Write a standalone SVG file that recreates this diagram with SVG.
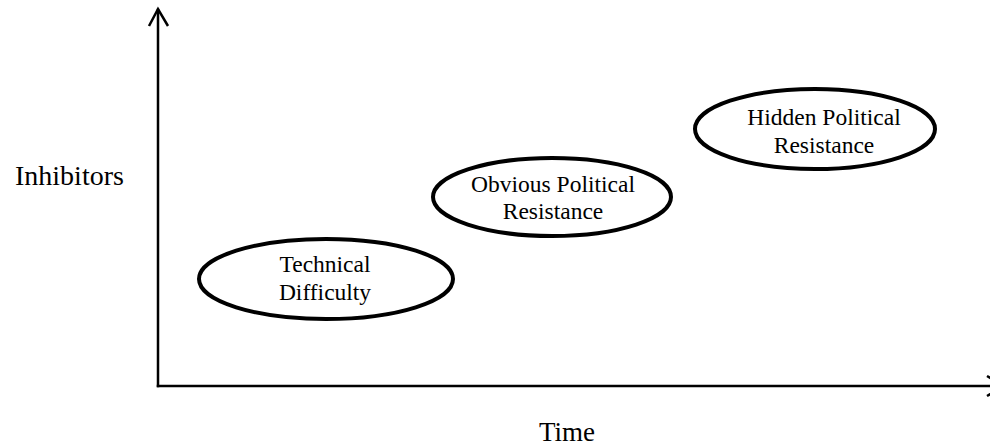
<svg xmlns="http://www.w3.org/2000/svg" width="990" height="448" viewBox="0 0 990 448">
<style>
.axis{fill:none;stroke:#000;stroke-width:2.5;stroke-linecap:square}
.head{fill:none;stroke:#000;stroke-width:2.5;stroke-linejoin:miter}
.node{fill:#fff;stroke:#000;stroke-width:4}
.lbl{font-family:"Liberation Serif","Times New Roman",Times,serif;font-size:23.5px;fill:#000;text-anchor:middle}
.ax{font-family:"Liberation Serif","Times New Roman",Times,serif;font-size:28px;fill:#000}
</style>
<rect width="990" height="448" fill="#fff"/>
<g id="connectors">
<line class="axis" x1="158" y1="10" x2="158" y2="386"/>
<polyline class="head" points="149,26 158,9 168,26"/>
<line class="axis" x1="158" y1="386" x2="1000" y2="386"/>
<polyline class="head" points="987,376 1004,386 987,396"/>
</g>
<g id="axis-y-label"><text class="ax" x="15" y="185">Inhibitors</text></g>
<g id="axis-x-label"><text class="ax" x="539" y="441" style="font-size:27px">Time</text></g>
<g id="node-technical">
<ellipse class="node" cx="326" cy="279" rx="127" ry="40"/>
<text class="lbl" x="325" y="272">Technical</text>
<text class="lbl" x="325" y="300">Difficulty</text>
</g>
<g id="node-obvious">
<ellipse class="node" cx="552" cy="197" rx="119" ry="39"/>
<text class="lbl" x="553" y="192">Obvious Political</text>
<text class="lbl" x="553" y="219">Resistance</text>
</g>
<g id="node-hidden">
<ellipse class="node" cx="815" cy="129" rx="120" ry="40"/>
<text class="lbl" x="824" y="125">Hidden Political</text>
<text class="lbl" x="824" y="153">Resistance</text>
</g>
</svg>
